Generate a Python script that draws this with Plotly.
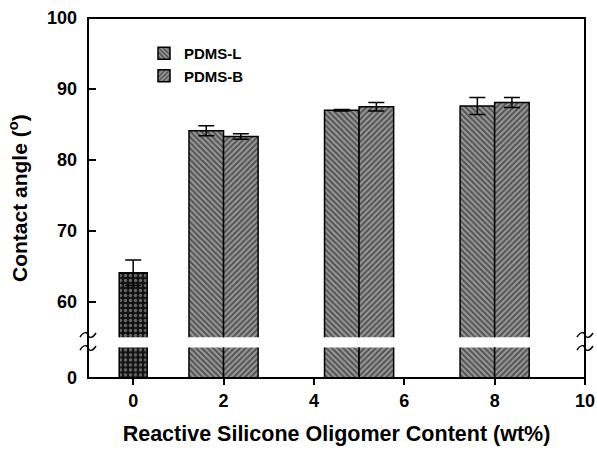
import plotly.graph_objects as go

# ---- data ----
x_ticks = [0, 2, 4, 6, 8, 10]
y_ticks_upper = [60, 70, 80, 90, 100]

x_ctrl = [0]
ctrl_vals = [64.1]
ctrl_err = [1.8]

x_pair = [2, 5, 8]
pdms_l = [84.1, 87.0, 87.6]
pdms_l_err = [0.7, 0.1, 1.2]
pdms_b = [83.3, 87.5, 88.1]
pdms_b_err = [0.4, 0.6, 0.7]

# ---- layout geometry ----
W, H = 597, 454
ML, MR, MT, MB = 88, 12, 18, 76
PW = W - ML - MR
PH = H - MT - MB
LOW_TOP = 0.085   # top of lower segment (paper)
UP_BOT = 0.113    # bottom of upper segment (paper)

FONT = "Arial, Liberation Sans, sans-serif"
BW = 0.765
CW = 0.62

pat_l = dict(shape="\\", bgcolor="#9a9a9a", fgcolor="#0a0a0a", size=4, solidity=0.5)
pat_b = dict(shape="/", bgcolor="#9a9a9a", fgcolor="#0a0a0a", size=4, solidity=0.5)
pat_c = dict(shape=".", bgcolor="#111111", fgcolor="#bdbdbd", size=5, solidity=0.35)
line = dict(color="black", width=1.5)
err_style = dict(type="data", color="black", thickness=1.5, width=8)

fig = go.Figure()

for xa, ya, upper in (("x", "y", False), ("x2", "y2", True)):
    fig.add_trace(go.Bar(
        x=x_ctrl, y=ctrl_vals, width=CW, offset=-CW / 2,
        marker=dict(pattern=pat_c, line=line),
        error_y=dict(array=ctrl_err, **err_style) if upper else None,
        xaxis=xa, yaxis=ya, showlegend=False, name="Control"))
    fig.add_trace(go.Bar(
        x=x_pair, y=pdms_l, width=BW, offset=-BW,
        marker=dict(pattern=pat_l, line=line),
        error_y=dict(array=pdms_l_err, **err_style) if upper else None,
        xaxis=xa, yaxis=ya, showlegend=upper, name="PDMS-L", legendgroup="L"))
    fig.add_trace(go.Bar(
        x=x_pair, y=pdms_b, width=BW, offset=0,
        marker=dict(pattern=pat_b, line=line),
        error_y=dict(array=pdms_b_err, **err_style) if upper else None,
        xaxis=xa, yaxis=ya, showlegend=upper, name="PDMS-B", legendgroup="B"))

tickfont = dict(family=FONT, size=18, color="black", weight="bold")

fig.update_layout(
    width=W, height=H,
    margin=dict(l=ML, r=MR, t=MT, b=MB, autoexpand=False),
    paper_bgcolor="white", plot_bgcolor="white",
    barmode="overlay",
    xaxis=dict(domain=[0, 1], range=[-1, 10], anchor="y", automargin=False,
               tickvals=x_ticks, ticks="outside", ticklen=6, tickwidth=1.5,
               tickcolor="black", showgrid=False, zeroline=False, showline=False,
               tickfont=tickfont, ticklabelstandoff=0,
               title=dict(text="Reactive Silicone Oligomer Content (wt%)",
                          font=dict(family=FONT, size=21.5, color="black", weight="bold"),
                          standoff=16)),
    xaxis2=dict(domain=[0, 1], matches="x", anchor="y2", showticklabels=False,
                automargin=False,
                ticks="", showgrid=False, zeroline=False, showline=False),
    yaxis=dict(domain=[0, LOW_TOP], range=[0, 5], tickvals=[0], ticks="",
               automargin=False,
               showgrid=False, zeroline=False, showline=False, tickfont=tickfont,
               ticklabelstandoff=10),
    yaxis2=dict(domain=[UP_BOT, 1], range=[55, 100], tickvals=y_ticks_upper,
                automargin=False,
                ticks="inside", ticklen=8, tickwidth=1.5, tickcolor="black",
                showgrid=False, zeroline=False, showline=False, tickfont=tickfont,
                ticklabelstandoff=10),
    legend=dict(x=(144 - ML) / PW, y=(H - MB - 37) / PH, xanchor="left", yanchor="top",
                bgcolor="rgba(0,0,0,0)", tracegroupgap=0,
                font=dict(family=FONT, size=15, color="black", weight="bold")),
    showlegend=True,
)

fig.add_annotation(text="Contact angle (<sup>o</sup>)", xref="paper", yref="paper",
                   x=0, y=0.5, xshift=-70, xanchor="center", textangle=-90, showarrow=False,
                   font=dict(family=FONT, size=21, color="black", weight="bold"))

# frame
fig.add_shape(type="rect", xref="paper", yref="paper", x0=0, x1=1, y0=0, y1=1,
              line=dict(color="black", width=2), layer="above")


# axis break squiggles
def px2paper(px, py):
    return (px - ML) / PW, (H - MB - py) / PH


def squiggle(cx, cy):
    pts = []
    for dx, dy in [(-8, 2), (-4, -4), (-1, -3), (0, 0), (1, 3), (4, 4), (8, -2)]:
        pts.append(px2paper(cx + dx, cy + dy))
    p = pts
    return (f"M{p[0][0]},{p[0][1]} C{p[1][0]},{p[1][1]} {p[2][0]},{p[2][1]} {p[3][0]},{p[3][1]} "
            f"C{p[4][0]},{p[4][1]} {p[5][0]},{p[5][1]} {p[6][0]},{p[6][1]}")


for cx in (ML, ML + PW):
    for cy in (335, 348):
        fig.add_shape(type="path", xref="paper", yref="paper", path=squiggle(cx, cy),
                      line=dict(color="black", width=1.5), layer="above")

fig.write_html("out.html", config={"displayModeBar": False},
               post_script="document.body.style.margin='0';")
